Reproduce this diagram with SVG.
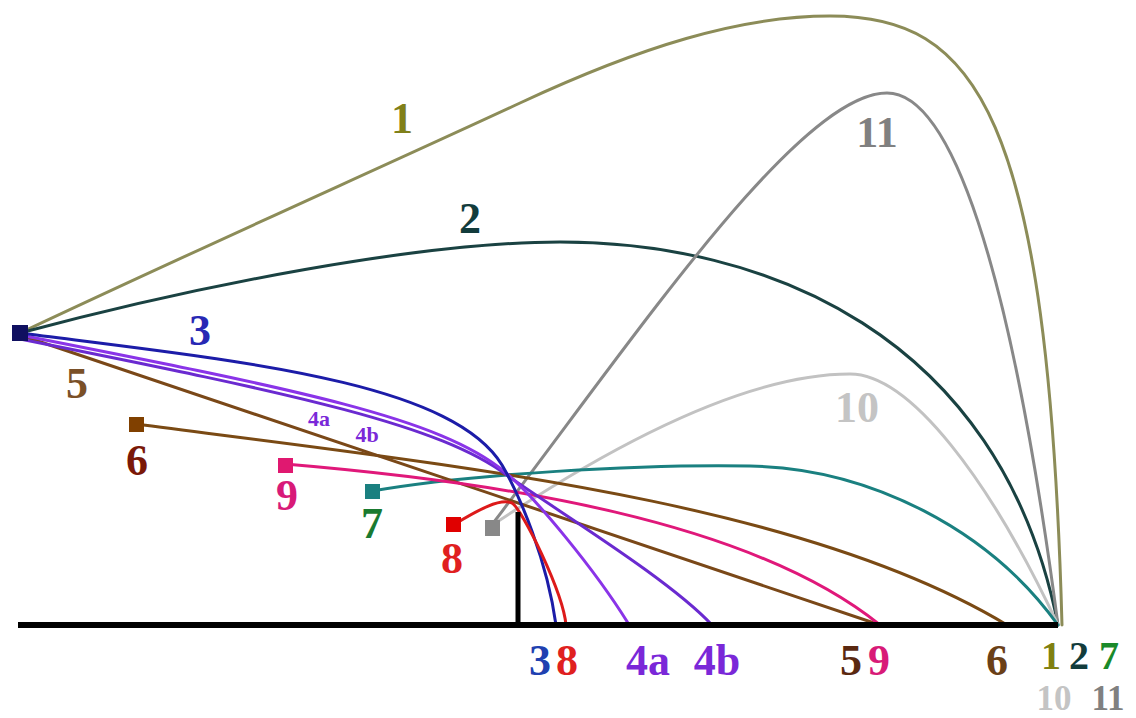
<svg xmlns="http://www.w3.org/2000/svg" width="1136" height="718" viewBox="0 0 1136 718">
<style>
.c{fill:none;stroke-width:3;stroke-linecap:round;stroke-linejoin:round}
.t{font-family:"Liberation Serif","Times New Roman",serif;font-weight:bold;font-size:44px;text-anchor:middle}
.b{font-size:44px}
.q{font-size:40px}
.r{font-size:35px}
.s{font-size:22px}
</style>
<rect width="1136" height="718" fill="#ffffff"/>
<g id="connectors">
<path id="curve-1" class="c" stroke="#8c8c58" d="M20,333 C200,248 380,168 520,103 C640,47 740,16 830,16 C975,16 1048,110 1062,625"/>
<path id="curve-2" class="c" stroke="#1a4242" d="M20,333 C200,285 420,242 560,242 C760,242 1000,330 1058,625"/>
<path id="curve-11" class="c" stroke="#888888" stroke-width="2.5" d="M494,522 C640,330 800,93 887,93 C950,93 1010,260 1058,625"/>
<path id="curve-10" class="c" stroke="#c2c2c2" stroke-width="2.5" d="M494,524 C620,440 750,374 850,374 C910,374 990,480 1058,625"/>
<path id="curve-7" class="c" stroke="#1a8080" d="M372,491 C470,474 640,464 750,466 C870,468 990,530 1058,625"/>
<path id="curve-6" class="c" stroke="#7a4a14" d="M136,424 C450,465 800,500 1007,625"/>
<path id="curve-5" class="c" stroke="#7a4818" d="M20,335 L880,625"/>
<path id="curve-9" class="c" stroke="#e0187a" d="M285,464 C500,482 750,520 880,625"/>
<path id="curve-4b" class="c" stroke="#6a2ad0" d="M20,339 C300,395 440,425 508,476 C565,516 670,580 712,625"/>
<path id="curve-4a" class="c" stroke="#8a34e8" d="M20,335 C300,390 440,418 505,472 C536,498 595,570 628,623"/>
<path id="curve-3" class="c" stroke="#1c1ca8" d="M20,333 C230,360 450,380 502,465 C520,496 547,560 556,625"/>
<path id="curve-8" class="c" stroke="#dd1a1a" d="M455,524 C478,510 500,498 512,503 C522,509 563,592 566,625"/>
</g>
<g id="ground">
<line x1="18" y1="625" x2="1058" y2="625" stroke="#000" stroke-width="6"/>
<line x1="518" y1="512" x2="518" y2="625" stroke="#000" stroke-width="5"/>
</g>
<g id="node-origin"><rect x="12" y="325" width="16" height="16" fill="#101060"/></g>
<g id="node-6"><rect x="129" y="417" width="15" height="15" fill="#804000"/><text class="t" x="137" y="475" fill="#7a1808">6</text></g>
<g id="node-9"><rect x="278" y="458" width="15" height="15" fill="#e01870"/><text class="t" x="287" y="510" fill="#d81a78">9</text></g>
<g id="node-7"><rect x="365" y="484" width="15" height="15" fill="#1a8080"/><text class="t" x="372" y="538" fill="#1a7a30">7</text></g>
<g id="node-8"><rect x="446" y="517" width="15" height="15" fill="#e00000"/><text class="t" x="452" y="573" fill="#e02020">8</text></g>
<g id="node-10-11"><rect x="485" y="520" width="15" height="16" fill="#888888"/></g>
<g id="labels">
<text class="t" x="402" y="133" fill="#80801a">1</text>
<text class="t" x="470" y="233" fill="#123c3c">2</text>
<text class="t" x="877" y="147" fill="#808080">11</text>
<text class="t" x="200" y="345" fill="#2828b4">3</text>
<text class="t" x="77" y="398" fill="#7a5028">5</text>
<text class="t s" x="319" y="426" fill="#7a28d8">4a</text>
<text class="t s" x="367" y="442" fill="#7a28d8">4b</text>
<text class="t" x="857" y="422" fill="#c4c4c4">10</text>
</g>
<g id="bottom-labels">
<text class="t b" x="540" y="675" fill="#2040b0">3</text>
<text class="t b" x="567" y="675" fill="#e02020">8</text>
<text class="t b" x="648" y="675" fill="#7a28d8">4a</text>
<text class="t b" x="717" y="675" fill="#7a28d8">4b</text>
<text class="t b" x="851" y="675" fill="#5a2810">5</text>
<text class="t b" x="879" y="675" fill="#d81a78">9</text>
<text class="t b" x="997" y="675" fill="#6a4018">6</text>
<text class="t q" x="1051" y="669" fill="#808010">1</text>
<text class="t q" x="1079" y="669" fill="#123c3c">2</text>
<text class="t q" x="1109" y="669" fill="#1a8a2a">7</text>
<text class="t r" x="1054" y="710" fill="#c4c4c4">10</text>
<text class="t r" x="1108" y="710" fill="#808080">11</text>
</g>
</svg>
